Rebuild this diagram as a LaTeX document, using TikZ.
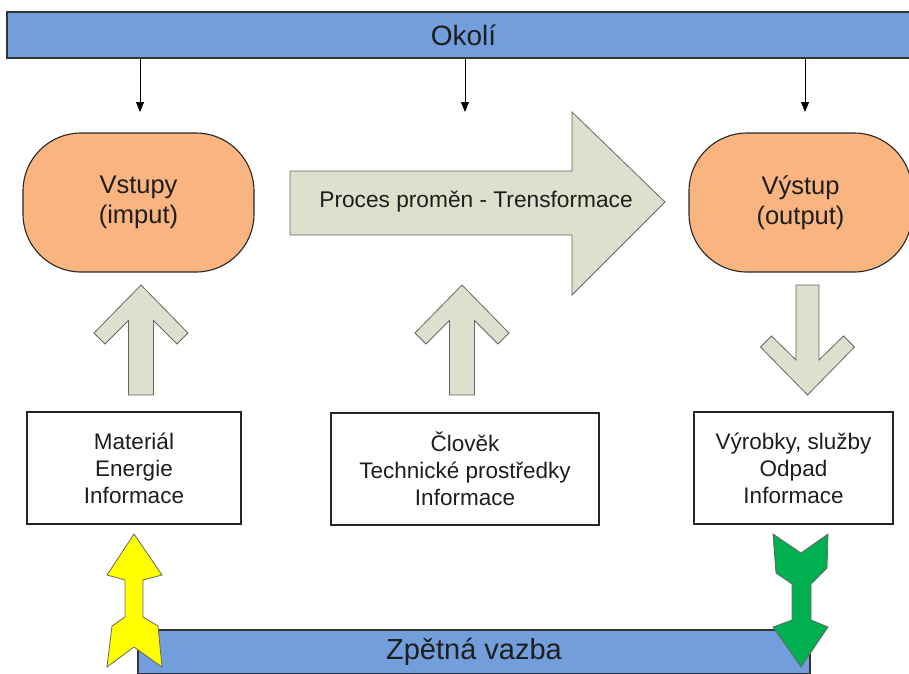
\documentclass[tikz,border=0pt]{standalone}
\usepackage{fontspec}
\setmainfont{Liberation Sans}
\usetikzlibrary{arrows.meta}
\definecolor{barblue}{RGB}{114,159,220}
\definecolor{orangefill}{RGB}{249,180,128}
\definecolor{arrowfill}{RGB}{221,224,204}
\definecolor{greenfill}{RGB}{0,176,80}
\definecolor{yellowfill}{RGB}{255,255,0}
\definecolor{txt}{RGB}{30,30,30}
\begin{document}
\begin{tikzpicture}[x=1pt,y=-1pt,
  bar/.style={draw=black!80, line width=1.2pt, fill=barblue, inner sep=0pt, text=txt},
  term/.style={draw=black!85, line width=1.1pt, fill=orangefill, rounded corners=58pt, align=center, inner sep=0pt, text=txt, font=\fontsize{25.5}{30}\selectfont},
  infobox/.style={draw=black!85, line width=1.1pt, fill=white, align=center, inner sep=0pt, text=txt, font=\fontsize{22.5}{27}\selectfont},
  fatarrow/.style={draw=black!60, line width=0.8pt, fill=arrowfill, line join=miter},
  thinarrow/.style={draw=black, line width=0.9pt, -{Triangle[length=10pt,width=8pt]}},
  feedarrow/.style={draw=black!60, line width=0.8pt, line join=miter}
]
\useasboundingbox (0,0) rectangle (909,673);
\clip (0,0) rectangle (909,673);

% top bar
\node[bar, minimum width=913pt, minimum height=46pt, font=\fontsize{28}{30}\selectfont] (okoli) at (463.5,35) {Okolí};

% terminals
\node[term, minimum width=231pt, minimum height=139pt] (vstupy) at (138.5,202.5) {Vstupy\\(imput)};
\node[term, minimum width=223pt, minimum height=139pt] (vystup) at (800.5,202.5) {Výstup\\(output)};

% arrows from Okolí
\coordinate (a1) at (140,112);
\coordinate (a2) at (465,112);
\coordinate (a3) at (805,112);
\draw[thinarrow] (okoli.south -| a1) -- (a1);
\draw[thinarrow] (okoli.south -| a2) -- (a2);
\draw[thinarrow] (okoli.south -| a3) -- (a3);

% big process arrow
\draw[fatarrow] (290,171) -- (572,171) -- (572,112) -- (665,202) -- (572,295) -- (572,235) -- (290,235) -- cycle;
\node[text=txt, font=\fontsize{22.7}{26}\selectfont] (proces) at (476,202) {Proces proměn - Trensformace};

% up arrows
\foreach \cx in {141,462}{
  \draw[fatarrow, shift={(\cx,285)}] (0,0) -- (47,48) -- (36,59) -- (12.5,35.5) -- (12.5,110) -- (-12.5,110) -- (-12.5,35.5) -- (-36,59) -- (-47,48) -- cycle;
}
% down arrow
\draw[fatarrow, shift={(807.5,395)}] (0,0) -- (47,-48) -- (36,-59) -- (11.5,-35) -- (11.5,-110) -- (-11.5,-110) -- (-11.5,-35) -- (-36,-59) -- (-47,-48) -- cycle;

% bottom boxes
\node[infobox, minimum width=214pt, minimum height=112pt] (inb) at (134,468) {Materiál\\Energie\\Informace};
\node[infobox, minimum width=268pt, minimum height=112pt] (trb) at (465,469) {Člověk\\Technické prostředky\\Informace};
\node[infobox, minimum width=199pt, minimum height=112pt] (outb) at (793.5,468) {Výrobky, služby\\Odpad\\Informace};

% feedback bar
\node[bar, minimum width=672pt, minimum height=44pt, font=\fontsize{29}{30}\selectfont] (zpet) at (474,652) {Zpětná vazba};

% yellow arrow
\draw[feedarrow, fill=yellowfill] (134,534) -- (162,575) -- (143,580) -- (143,617) -- (158,626) -- (162,667) -- (134,647) -- (107,667) -- (112,626) -- (125,617) -- (125,580) -- (107,575) -- cycle;
% green arrow
\draw[feedarrow, fill=greenfill] (773,534) -- (801,553) -- (828,534) -- (827,568) -- (811,584) -- (811,620) -- (828,627) -- (801,667) -- (773,627) -- (792,620) -- (792,584) -- (776,573) -- cycle;
\end{tikzpicture}
\end{document}
